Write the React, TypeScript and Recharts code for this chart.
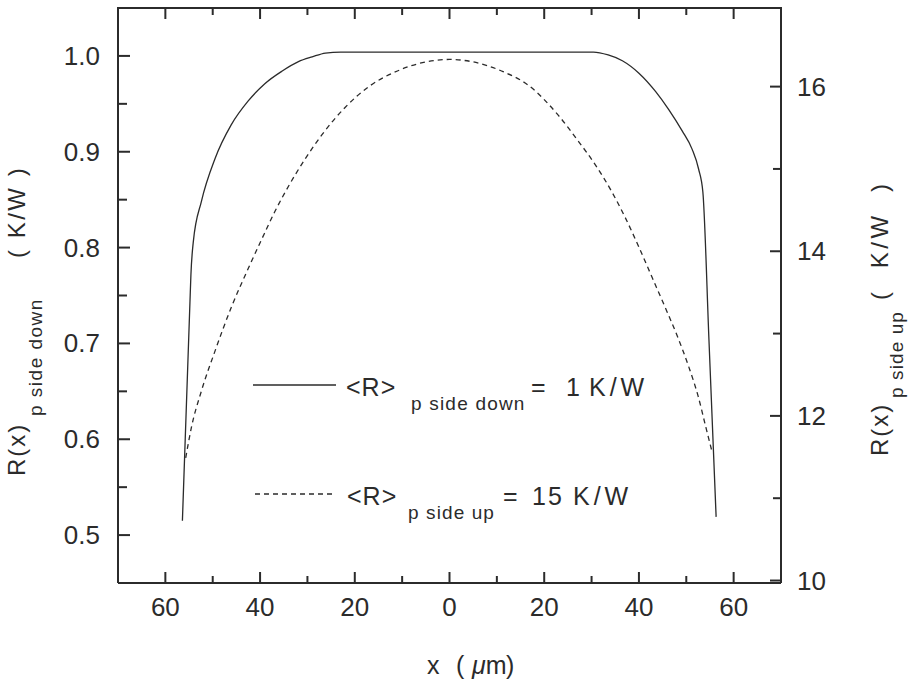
import React from "react";
import { LineChart, Line, XAxis, YAxis, Customized } from "recharts";

const INK = "#2b2b2b";
const FONT = "'Liberation Sans', Arial, sans-serif";

// R(x) p side down, left axis (K/W)
const downX = [-56.4, -54.8, -54.6, -54.1, -52.4, -49.5, -46.1, -42.5, -39.0, -35.4, -31.9, -29.0, -26.2, -23.0, 30.4, 33.5, 36.5, 40.0, 43.5, 46.3, 49.1, 51.2, 52.6, 53.5, 54.8, 56.3];
const downR = [0.515, 0.744, 0.772, 0.806, 0.848, 0.893, 0.928, 0.953, 0.971, 0.984, 0.994, 0.999, 1.003, 1.004, 1.004, 1.001, 0.995, 0.982, 0.963, 0.944, 0.922, 0.903, 0.882, 0.858, 0.702, 0.519];

// R(x) p side up, right axis (K/W)
const upX = [-55.7, -54.5, -52.4, -49.5, -46.0, -42.5, -39.7, -36.9, -34.0, -30.5, -27.0, -22.0, -16.8, -11.0, -5.0, 0, 5.0, 11.0, 16.8, 23.0, 27.3, 30.8, 34.3, 37.1, 40.0, 42.8, 45.6, 48.1, 50.5, 52.5, 54.1, 55.5];
const upR = [11.49, 11.86, 12.30, 12.79, 13.33, 13.79, 14.14, 14.48, 14.79, 15.12, 15.41, 15.75, 16.01, 16.19, 16.30, 16.33, 16.30, 16.19, 16.01, 15.65, 15.33, 15.05, 14.72, 14.41, 14.05, 13.68, 13.31, 12.97, 12.60, 12.24, 11.87, 11.55];

const xTicks = [-60, -50, -40, -30, -20, -10, 0, 10, 20, 30, 40, 50, 60];
const leftTicks = [0.5, 0.55, 0.6, 0.65, 0.7, 0.75, 0.8, 0.85, 0.9, 0.95, 1.0];
const rightTicks = [10, 11, 12, 13, 14, 15, 16];

const downData = downX.map((x, i) => ({ x, r: downR[i] }));
const upData = upX.map((x, i) => ({ x, r: upR[i] }));

const W = 910;
const H = 684;
const MARGIN = { top: 8, right: 69, bottom: 61, left: 58 };
const AXIS_W = 60;
const AXIS_H = 40;
const PLOT_LEFT = MARGIN.left + AXIS_W;
const PLOT_RIGHT = W - MARGIN.right - AXIS_W;
const PLOT_H = H - MARGIN.top - MARGIN.bottom - AXIS_H;

// bottom axis tick; also mirrors the tick mark on the top edge of the frame
function BottomTick(props: any) {
  const { x, y, payload } = props;
  const v = payload.value;
  const major = v % 20 === 0;
  const len = major ? 11 : 7;
  const top = y - PLOT_H;
  return (
    <g>
      <line x1={x} x2={x} y1={y} y2={y - len} stroke={INK} strokeWidth={2} />
      <line x1={x} x2={x} y1={top} y2={top + len} stroke={INK} strokeWidth={2} />
      {major && (
        <text x={x} y={y + 33} textAnchor="middle" fontSize={26} fill={INK} fontFamily={FONT}>
          {Math.abs(v)}
        </text>
      )}
    </g>
  );
}

function LeftTick(props: any) {
  const { x, y, payload } = props;
  const v = payload.value;
  const major = Math.round(v * 100) % 10 === 0;
  return (
    <g>
      <line x1={x} x2={x + (major ? 12 : 9)} y1={y} y2={y} stroke={INK} strokeWidth={2} />
      {major && (
        <text x={x - 18} y={y} dy={9} textAnchor="end" fontSize={26} fill={INK} fontFamily={FONT}>
          {v.toFixed(1)}
        </text>
      )}
    </g>
  );
}

function RightTick(props: any) {
  const { x, y, payload } = props;
  const v = payload.value;
  const major = v % 2 === 0;
  return (
    <g>
      <line x1={x} x2={x - (major ? 11 : 8)} y1={y} y2={y} stroke={INK} strokeWidth={2} />
      {major && (
        <text x={x + 16} y={y} dy={9} textAnchor="start" fontSize={26} fill={INK} fontFamily={FONT}>
          {v}
        </text>
      )}
    </g>
  );
}

function Annotations() {
  return (
    <g fontFamily={FONT} fill={INK}>
      {/* top edge of the frame */}
      <line x1={PLOT_LEFT - 1} x2={PLOT_RIGHT + 1} y1={MARGIN.top} y2={MARGIN.top} stroke={INK} strokeWidth={2} />

      {/* legend */}
      <line x1={253} x2={336} y1={385} y2={385} stroke={INK} strokeWidth={1.3} />
      <text fontSize={25}>
        <tspan x={346} y={396} letterSpacing={1}>{"<R>"}</tspan>
        <tspan x={411} y={410} fontSize={19} letterSpacing={1.2}>p side down</tspan>
        <tspan x={531} y={396}>=</tspan>
        <tspan x={566} y={396}>1</tspan>
        <tspan x={589} y={396} letterSpacing={4}>K/W</tspan>
      </text>
      <line x1={255} x2={336} y1={494} y2={494} stroke={INK} strokeWidth={1.3} strokeDasharray="5 4" />
      <text fontSize={25}>
        <tspan x={347} y={505} letterSpacing={1}>{"<R>"}</tspan>
        <tspan x={408} y={519} fontSize={19} letterSpacing={1.1}>p side up</tspan>
        <tspan x={503} y={505}>=</tspan>
        <tspan x={532} y={505} letterSpacing={2}>15</tspan>
        <tspan x={573} y={505} letterSpacing={4}>K/W</tspan>
      </text>

      {/* x axis title */}
      <text fontSize={25}>
        <tspan x={427} y={674}>x</tspan>
        <tspan x={456} y={674}>(</tspan>
        <tspan x={472} y={674} fontStyle="italic">μ</tspan>
        <tspan>m</tspan>
        <tspan x={506} y={674}>)</tspan>
      </text>

      {/* left axis title */}
      <g transform="translate(25,476) rotate(-90)">
        <text fontSize={24}>
          <tspan x={0} y={0} letterSpacing={2}>R(x)</tspan>
          <tspan x={60} y={17} fontSize={19} letterSpacing={1.5}>p side down</tspan>
          <tspan x={218} y={0} letterSpacing={2.5} style={{ whiteSpace: "pre" }}>( K/W )</tspan>
        </text>
      </g>

      {/* right axis title */}
      <g transform="translate(888,456) rotate(-90)">
        <text fontSize={24}>
          <tspan x={0} y={0} letterSpacing={2}>R(x)</tspan>
          <tspan x={58} y={15} fontSize={19} letterSpacing={1.1}>p side up</tspan>
          <tspan x={156} y={0} letterSpacing={3.5} style={{ whiteSpace: "pre" }}>(  K/W  )</tspan>
        </text>
      </g>
    </g>
  );
}

export default function App() {
  return (
    <div style={{ width: W, height: H, background: "#fff" }}>
      <style>{"body { margin: 0; }"}</style>
      <LineChart width={W} height={H} margin={MARGIN}>
        <XAxis
          xAxisId="bottom"
          type="number"
          dataKey="x"
          domain={[-70, 70]}
          allowDataOverflow
          ticks={xTicks}
          interval={0}
          height={AXIS_H}
          tickSize={0}
          tickMargin={0}
          tickLine={false}
          axisLine={{ stroke: INK, strokeWidth: 2 }}
          tick={<BottomTick />}
        />
        <YAxis
          yAxisId="left"
          type="number"
          domain={[0.45, 1.05]}
          allowDataOverflow
          ticks={leftTicks}
          interval={0}
          width={AXIS_W}
          tickSize={0}
          tickMargin={0}
          tickLine={false}
          axisLine={{ stroke: INK, strokeWidth: 2 }}
          tick={<LeftTick />}
        />
        <YAxis
          yAxisId="right"
          orientation="right"
          type="number"
          domain={[9.97, 16.955]}
          allowDataOverflow
          ticks={rightTicks}
          interval={0}
          width={AXIS_W}
          tickSize={0}
          tickMargin={0}
          tickLine={false}
          axisLine={{ stroke: INK, strokeWidth: 2 }}
          tick={<RightTick />}
        />
        <Line
          data={downData}
          xAxisId="bottom"
          yAxisId="left"
          dataKey="r"
          type="monotone"
          stroke={INK}
          strokeWidth={1.3}
          dot={false}
          isAnimationActive={false}
        />
        <Line
          data={upData}
          xAxisId="bottom"
          yAxisId="right"
          dataKey="r"
          type="monotone"
          stroke={INK}
          strokeWidth={1.3}
          strokeDasharray="5 4"
          dot={false}
          isAnimationActive={false}
        />
        <Customized component={<Annotations />} />
      </LineChart>
    </div>
  );
}
